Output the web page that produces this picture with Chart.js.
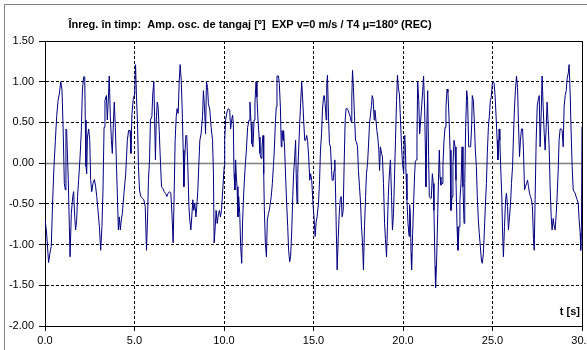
<!DOCTYPE html>
<html><head><meta charset="utf-8">
<script src="https://cdn.jsdelivr.net/npm/chart.js@4.4.0/dist/chart.umd.min.js"></script>
<style>html,body{margin:0;padding:0;background:#fff;overflow:hidden;width:587px;height:350px}canvas{display:block}</style>
</head><body>
<canvas id="c" width="620" height="350"></canvas>
<script>
// time [s] and pitch oscillation amplitude [deg], in 5 s blocks
const t00 = [0.00,0.09,0.20,0.28,0.35,0.43,0.50,0.58,0.65,0.73,0.80,0.88,0.95,1.02,1.08,1.14,1.17,1.21,1.25,1.30,1.36,1.40,1.47,1.55,1.60,1.66,1.71,1.77,1.82,1.88,1.96,2.03,2.09,2.16,2.22,2.25,2.29,2.33,2.37,2.44,2.50,2.55,2.61,2.68,2.76,2.83,2.89,2.96,3.04,3.11,3.18,3.24,3.30,3.35,3.43,3.48,3.54,3.59,3.65,3.71,3.76,3.82,3.87,3.93,3.99,4.04,4.10,4.15,4.21,4.26,4.32,4.41,4.51,4.60,4.67,4.75,4.80,4.86,4.93,5.01];
const a00 = [-0.68,-0.86,-1.22,-1.10,-1.02,-0.45,-0.05,0.28,0.57,0.77,0.85,1.00,0.90,0.36,-0.25,-0.33,0.42,0.40,0.12,-0.20,-0.78,-1.15,-0.62,-0.41,-0.35,-0.66,-0.82,-0.70,-0.41,-0.20,0.08,0.40,0.90,1.06,1.06,0.53,-0.04,-0.13,0.32,0.42,0.28,-0.20,-0.35,-0.25,-0.20,-0.29,-0.41,-0.58,-0.78,-1.07,-0.78,-0.33,0.44,0.77,0.83,0.53,0.79,1.07,0.57,0.28,0.12,0.49,0.75,0.44,0.00,-0.37,-0.82,-0.66,-0.82,-0.70,-0.62,-0.37,-0.13,0.28,0.40,0.40,0.12,0.61,0.79,0.85];
const t05 = [5.06,5.11,5.17,5.22,5.28,5.35,5.45,5.52,5.60,5.67,5.73,5.78,5.84,5.89,5.97,6.02,6.08,6.12,6.17,6.21,6.27,6.32,6.38,6.43,6.51,6.58,6.66,6.73,6.81,6.88,6.96,7.03,7.10,7.16,7.22,7.27,7.33,7.38,7.44,7.50,7.55,7.61,7.66,7.72,7.76,7.81,7.87,7.92,7.98,8.04,8.09,8.15,8.20,8.26,8.31,8.37,8.43,8.48,8.54,8.59,8.65,8.72,8.80,8.85,8.91,8.97,9.02,9.08,9.13,9.21,9.28,9.36,9.41,9.45,9.51,9.56,9.62,9.69,9.75,9.80,9.86,9.93,10.01];
const a05 = [1.21,0.81,0.49,-0.04,-0.33,-0.41,-0.43,-0.45,-0.53,-1.07,-0.66,-0.21,0.04,0.53,0.57,0.85,1.00,0.57,0.04,0.49,0.75,0.69,0.40,0.12,-0.29,-0.31,-0.35,-0.37,-0.41,-0.37,-0.35,-0.37,-0.66,-0.98,-0.33,0.28,0.57,0.67,0.61,1.02,1.21,1.02,0.69,0.16,-0.29,0.08,0.34,0.34,-0.04,-0.53,-0.70,-0.82,-0.66,-0.45,-0.58,-0.49,-0.66,-0.53,-0.33,-0.04,0.28,0.36,0.57,0.89,0.69,0.36,1.00,0.93,0.73,0.65,0.44,0.28,-0.13,-0.98,-0.78,-0.58,-0.74,-0.62,-0.58,-0.66,-0.58,-0.33,-0.04];
const t10 = [10.04,10.09,10.17,10.24,10.32,10.37,10.43,10.48,10.52,10.56,10.61,10.65,10.69,10.73,10.78,10.82,10.88,10.93,10.99,11.04,11.10,11.17,11.25,11.32,11.40,11.45,11.51,11.56,11.62,11.68,11.73,11.79,11.84,11.90,11.96,12.01,12.07,12.12,12.18,12.22,12.25,12.31,12.37,12.42,12.48,12.53,12.59,12.64,12.70,12.76,12.81,12.87,12.92,12.96,13.04,13.09,13.15,13.20,13.24,13.30,13.33,13.39,13.45,13.50,13.56,13.61,13.67,13.72,13.78,13.84,13.89,13.95,14.00,14.04,14.08,14.12,14.17,14.23,14.28,14.34,14.39,14.45,14.51,14.56,14.62,14.67,14.73,14.79,14.84,14.90,14.97];
const a10 = [0.28,0.53,0.63,0.67,0.65,0.42,0.53,0.59,0.49,-0.13,-0.33,0.04,-0.17,-0.29,-0.66,-0.41,-0.62,-1.02,-1.23,-0.70,-0.37,-0.09,0.16,0.44,0.53,0.75,0.49,0.24,0.20,0.53,0.75,1.00,0.81,0.53,0.32,0.12,0.06,0.20,0.34,-0.13,-0.53,-0.98,-1.15,-0.70,-0.62,-0.58,-0.49,-0.41,-0.25,-0.04,0.16,0.49,0.69,1.07,1.07,0.98,0.69,0.20,0.40,0.28,0.40,0.16,-0.21,-0.49,-0.78,-1.07,-1.21,-1.15,-0.86,-0.41,-0.13,0.08,0.28,-0.21,-0.49,-0.13,0.16,0.49,0.73,1.00,0.81,0.53,0.28,0.28,0.34,0.28,0.08,-0.21,-0.13,-0.21,-0.49];
const t15 = [15.04,15.09,15.15,15.20,15.28,15.34,15.39,15.45,15.50,15.56,15.60,15.65,15.71,15.74,15.78,15.84,15.89,15.95,16.01,16.04,16.10,16.15,16.19,16.23,16.27,16.32,16.38,16.43,16.49,16.55,16.60,16.66,16.71,16.77,16.82,16.88,16.94,16.99,17.05,17.10,17.14,17.18,17.23,17.29,17.35,17.40,17.46,17.51,17.57,17.63,17.68,17.74,17.79,17.85,17.91,17.96,18.02,18.07,18.13,18.18,18.24,18.28,18.33,18.39,18.43,18.48,18.54,18.59,18.65,18.69,18.74,18.80,18.85,18.91,18.97,19.02,19.08,19.13,19.19,19.25,19.30,19.36,19.41,19.47,19.53,19.58,19.64,19.69,19.75,19.80,19.86,19.92,19.97];
const a15 = [-0.70,-0.90,-0.72,-0.66,-0.49,-0.21,0.16,0.36,0.65,0.81,0.83,0.73,0.53,0.96,1.08,0.57,0.24,0.20,-0.09,-0.21,-0.21,-0.09,0.04,-0.33,-0.78,-1.31,-0.94,-0.66,-0.45,-0.41,-0.66,-0.58,-0.04,0.53,0.67,0.67,0.65,0.61,0.57,0.51,0.81,1.14,0.93,0.57,0.28,0.26,0.20,-0.09,-0.29,-0.49,-0.78,-0.98,-1.31,-0.78,-0.41,-0.13,0.00,0.20,0.49,0.59,0.71,0.83,0.79,0.53,0.65,0.55,0.40,0.32,0.16,-0.09,0.20,0.12,0.08,-0.25,-0.74,-0.94,-1.15,-0.78,-0.33,-0.09,0.04,-0.41,-0.82,-0.62,-0.13,0.28,0.77,1.08,0.91,0.85,0.53,0.20,0.00];
const t20 = [20.04,20.07,20.10,20.13,20.17,20.22,20.28,20.34,20.37,20.41,20.45,20.48,20.54,20.60,20.65,20.69,20.74,20.78,20.82,20.88,20.93,20.99,21.04,21.10,21.15,21.21,21.25,21.28,21.34,21.38,21.43,21.47,21.53,21.58,21.64,21.69,21.73,21.79,21.82,21.88,21.94,21.99,22.03,22.07,22.12,22.18,22.23,22.29,22.35,22.40,22.46,22.51,22.57,22.63,22.68,22.74,22.79,22.85,22.91,22.96,23.02,23.07,23.13,23.18,23.24,23.30,23.35,23.41,23.45,23.50,23.56,23.61,23.67,23.72,23.78,23.84,23.87,23.93,23.99,24.04,24.10,24.15,24.21,24.26,24.32,24.38,24.43,24.49,24.54,24.60,24.66,24.71,24.77,24.82,24.88,24.93,24.99];
const a20 = [-0.13,0.32,0.34,0.20,-0.13,-0.45,-0.74,-0.90,-0.51,-0.62,-1.11,-1.31,-0.86,-0.45,-0.13,0.02,0.04,0.28,1.00,0.77,0.36,0.53,0.69,0.89,1.07,0.65,0.16,-0.29,0.57,0.89,0.08,-0.41,-0.43,-0.43,-0.13,-0.25,-0.58,-1.27,-1.53,-1.19,-0.62,-0.13,0.16,-0.17,-0.27,-0.25,-0.04,0.28,0.44,0.69,0.91,0.87,0.57,0.16,-0.58,-0.41,-0.04,0.28,0.20,-0.21,-0.78,-1.07,-0.78,-0.45,-0.25,0.20,-0.29,-0.74,-0.25,0.44,0.89,0.77,0.20,0.20,0.20,0.49,0.83,0.77,0.49,0.16,-0.04,-0.41,-0.70,-0.86,-1.02,-1.19,-1.23,-1.11,-0.86,-0.53,-0.25,0.12,0.44,0.57,0.77,0.81,0.98];
const t25 = [25.04,25.09,25.15,25.20,25.26,25.30,25.34,25.37,25.41,25.47,25.52,25.56,25.61,25.67,25.73,25.78,25.84,25.89,25.95,26.01,26.06,26.12,26.17,26.23,26.28,26.34,26.40,26.45,26.51,26.56,26.62,26.68,26.73,26.79,26.84,26.90,26.96,27.01,27.07,27.12,27.18,27.23,27.29,27.33,27.38,27.44,27.50,27.55,27.61,27.66,27.72,27.77,27.83,27.89,27.94,28.00,28.05,28.11,28.17,28.22,28.28,28.33,28.39,28.45,28.50,28.56,28.61,28.67,28.72,28.78,28.84,28.89,28.95,29.00,29.06,29.12,29.17,29.23,29.28,29.34,29.39,29.45,29.51,29.56,29.62,29.67,29.73,29.79,29.84,29.90,29.93,29.97,30.00];
const a25 = [1.00,0.98,0.81,0.57,0.28,0.04,0.16,0.42,0.28,-0.13,-0.41,-0.82,-1.15,-0.78,-0.45,-0.37,-0.53,-0.82,-0.66,-0.49,-0.25,-0.04,0.32,0.69,0.89,1.07,0.93,0.49,0.08,0.28,0.42,0.42,0.16,-0.33,-0.29,-0.25,-0.21,-0.29,-0.37,-0.41,-0.45,-0.53,-0.94,-1.07,-0.45,0.28,0.71,0.77,0.83,0.20,0.61,1.07,0.69,0.36,0.16,0.44,0.75,0.49,0.16,-0.29,-0.66,-0.82,-0.68,-0.78,-0.82,-0.62,-0.41,-0.09,0.28,0.42,0.42,0.40,0.20,0.69,0.83,0.89,1.04,1.10,1.21,0.85,0.40,-0.04,-0.33,-0.35,-0.37,-0.41,-0.45,-0.49,-0.70,-0.86,-1.07,-0.78,0.45];

const timeSec = [].concat(t00, t05, t10, t15, t20, t25);
const ampDeg  = [].concat(a00, a05, a10, a15, a20, a25);
const points = timeSec.map((t, i) => ({ x: t, y: ampDeg[i] }));

const titleText = 'Înreg. în timp:  Amp. osc. de tangaj [º]  EXP v=0 m/s / T4 μ=180º (REC)';
const axisLabelX = 't [s]';
const FONT = '"Liberation Sans", Arial, sans-serif';

const decor = {
  id: 'decor',
  beforeDraw(chart) {
    const c = chart.ctx;
    c.save();
    c.fillStyle = '#fff';
    c.fillRect(0, 0, chart.width, chart.height);
    c.strokeStyle = '#808080';
    c.lineWidth = 1;
    c.strokeRect(4.5, 4.5, 800, 500);
    c.restore();
  },
  beforeDatasetsDraw(chart) {
    const c = chart.ctx, a = chart.chartArea;
    const y0 = Math.round(chart.scales.y.getPixelForValue(0)) + 0.5;
    c.save();
    c.strokeStyle = '#808080';
    c.lineWidth = 1.5;
    c.beginPath(); c.moveTo(a.left, y0); c.lineTo(a.right, y0); c.stroke();
    c.strokeStyle = '#000';
    c.lineWidth = 1;
    c.strokeRect(Math.round(a.left) + 0.5, Math.round(a.top) + 0.5, Math.round(a.right - a.left), Math.round(a.bottom - a.top));
    c.restore();
  },
  afterDraw(chart) {
    const c = chart.ctx, a = chart.chartArea;
    c.save();
    c.fillStyle = '#000';
    c.font = 'bold 11px ' + FONT;
    c.textAlign = 'center';
    c.textBaseline = 'middle';
    c.fillText(titleText, 250, 25);
    c.textAlign = 'right';
    c.fillText(axisLabelX, a.right - 2, a.bottom - 14);
    c.restore();
  }
};

new Chart(document.getElementById('c'), {
  type: 'line',
  data: { datasets: [{ data: points, borderColor: '#000080', borderWidth: 1, pointRadius: 0, tension: 0, fill: false }] },
  options: {
    responsive: false, animation: false, devicePixelRatio: 1,
    layout: { padding: { left: 0, top: 41, right: 38, bottom: 0 } },
    plugins: { legend: { display: false }, tooltip: { enabled: false }, title: { display: false } },
    scales: {
      x: {
        type: 'linear', min: 0, max: 30,
        ticks: { stepSize: 5, callback: v => v.toFixed(1), color: '#000', font: { size: 11, family: FONT }, padding: 3, maxRotation: 0, autoSkip: false },
        grid: { color: '#000', lineWidth: 1, tickLength: 5, tickColor: '#000', drawTicks: true },
        border: { display: true, color: '#000', dash: [3, 2] },
        afterFit: s => { s.height = 24; }
      },
      y: {
        min: -2, max: 1.5,
        ticks: { stepSize: 0.5, callback: v => v.toFixed(2), color: '#000', font: { size: 11, family: FONT }, padding: 5 },
        grid: { color: '#000', lineWidth: 1, tickLength: 6, tickColor: '#000', drawTicks: true },
        border: { display: true, color: '#000', dash: [3, 2] },
        afterFit: s => { s.width = 45; }
      }
    }
  },
  plugins: [decor]
});
</script>
</body></html>
